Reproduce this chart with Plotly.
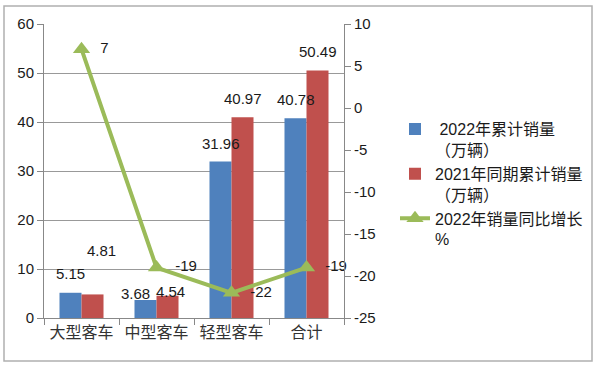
import plotly.graph_objects as go

categories = ["大型客车", "中型客车", "轻型客车", "合计"]
sales_2022 = [5.15, 3.68, 31.96, 40.78]
sales_2021 = [4.81, 4.54, 40.97, 50.49]
growth_pct = [7, -19, -22, -19]

left_ticks = [0, 10, 20, 30, 40, 50, 60]
right_ticks = [-25, -20, -15, -10, -5, 0, 5, 10]
right_ticklabels = ["-25", "-20", "-15", "-10", "-5", "0", "5", "10"]

name_2022 = " 2022年累计销量<br>（万辆）"
name_2021 = "2021年同期累计销量<br>（万辆）"
name_growth = "2022年销量同比增长<br>%"

# label offsets in pixels (style only)
dx_2022 = [0, -10, 0, 0]
dy_2022 = [19, 6, 18, 19]
dx_2021 = [9, 3, 0, 0]
dy_2021 = [44, 4, 19, 19]

FONT = "Liberation Sans, Noto Sans CJK SC, sans-serif"
TXT = "#1a1a1a"

fig = go.Figure()
fig.add_trace(go.Bar(x=categories, y=sales_2022, name=name_2022,
                     marker=dict(color="#4F81BD", line=dict(width=0))))
fig.add_trace(go.Bar(x=categories, y=sales_2021, name=name_2021,
                     marker=dict(color="#C0504D", line=dict(width=0))))
fig.add_trace(go.Scatter(x=categories, y=growth_pct, name=name_growth, yaxis="y2",
                         mode="lines+markers+text", text=["  " + str(v) for v in growth_pct],
                         textposition="middle right", cliponaxis=False,
                         textfont=dict(size=15, color=TXT, family=FONT),
                         line=dict(color="#9BBB59", width=4),
                         marker=dict(symbol="triangle-up", size=15, color="#9BBB59")))

for i, c in enumerate(categories):
    fig.add_annotation(x=c, y=sales_2022[i], xref="x", yref="y", text=f"{sales_2022[i]:.2f}",
                       showarrow=False, xshift=-11 + dx_2022[i], yshift=dy_2022[i],
                       font=dict(size=15, color=TXT, family=FONT))
    fig.add_annotation(x=c, y=sales_2021[i], xref="x", yref="y", text=f"{sales_2021[i]:.2f}",
                       showarrow=False, xshift=11 + dx_2021[i], yshift=dy_2021[i],
                       font=dict(size=15, color=TXT, family=FONT))

# outer border
fig.add_shape(type="rect", xref="paper", yref="paper",
              x0=(4 - 44) / 300, x1=(592 - 44) / 300,
              y0=(318 - 361) / 294, y1=(318 - 6) / 294,
              line=dict(color="#b0b0b0", width=1.5), fillcolor="rgba(0,0,0,0)")

fig.update_layout(
    width=600, height=365,
    margin=dict(l=44, r=256, t=24, b=47, autoexpand=False),
    paper_bgcolor="white", plot_bgcolor="white",
    barmode="group", bargap=0.413, bargroupgap=0,
    font=dict(family=FONT, size=15, color=TXT),
    showlegend=True,
    legend=dict(x=1.17, y=0.70, xanchor="left", yanchor="top", valign="top",
                font=dict(size=16, family=FONT, color=TXT),
                tracegroupgap=4, bgcolor="rgba(0,0,0,0)"),
    xaxis=dict(showline=True, linecolor="#888888", linewidth=1, automargin=False,
               ticks="outside", tickson="boundaries", ticklen=6, tickcolor="#888888",
               tickfont=dict(size=16, family="Noto Sans CJK SC, sans-serif", color="#333333"),
               showgrid=False),
    yaxis=dict(range=[0, 60], tickvals=left_ticks, showline=True, linecolor="#888888", linewidth=1,
               ticks="outside", ticklen=6, tickcolor="#888888", automargin=False,
               showgrid=True, gridcolor="#999999", gridwidth=1, zeroline=False,
               tickfont=dict(size=15, family=FONT, color=TXT)),
    yaxis2=dict(range=[-25, 10], tickvals=right_ticks, ticktext=right_ticklabels,
                overlaying="y", side="right", automargin=False,
                showline=True, linecolor="#888888", linewidth=1,
                ticks="outside", ticklen=6, tickcolor="#888888",
                showgrid=False, zeroline=False,
                tickfont=dict(size=15, family=FONT, color=TXT)),
)

fig.write_html("out.html", config={"displayModeBar": False},
               post_script="document.body.style.margin='0';")
